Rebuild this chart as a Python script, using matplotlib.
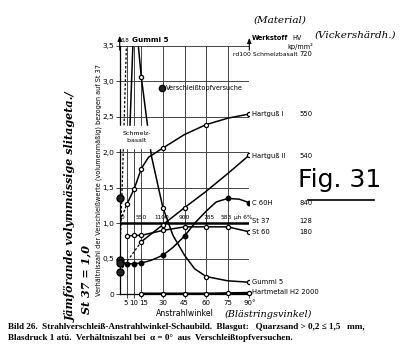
import matplotlib.pyplot as plt
from matplotlib.transforms import ScaledTranslation

W, H = 400, 351

# axis values
grid_x = [0, 5, 10, 15, 30, 45, 60, 75, 90]
x_ticks = [5, 10, 15, 30, 45, 60, 75, 90]
x_tick_labels = ["5", "10", "15", "30", "45", "60", "75", "90°"]
y_ticks = [0, 0.5, 1.0, 1.5, 2.0, 2.5, 3.0, 3.5]
y_tick_labels = ["0", "0,5", "1,0", "1,5", "2,0", "2,5", "3,0", "3,5"]

# Hartguss I (HV 550)
hg1_x = [5, 10, 15, 20, 30, 45, 60, 75, 90]
hg1_y = [1.27, 1.48, 1.77, 1.93, 2.06, 2.25, 2.39, 2.48, 2.54]
hg1_marks = [5, 10, 15, 30, 60, 90]
hg1_dash_x = [0.6, 5]
hg1_dash_y = [1.04, 1.27]

# Hartguss II (HV 540)
hg2_dash_x = [0, 15]
hg2_dash_y = [0.32, 0.74]
hg2_x = [15, 30, 45, 60, 75, 90]
hg2_y = [0.74, 0.98, 1.22, 1.45, 1.70, 1.96]
hg2_marks = [15, 30, 45, 90]

# C 60H (HV 840)
c60_x = [0, 5, 10, 15, 22, 30, 37, 45, 52, 60, 67, 75, 83, 90]
c60_y = [0.46, 0.43, 0.43, 0.44, 0.48, 0.55, 0.66, 0.82, 1.0, 1.17, 1.30, 1.35, 1.34, 1.29]
c60_marks = [5, 10, 15, 30, 45, 75, 90]

# St 60 (HV 180)
st60_x = [5, 10, 15, 30, 45, 60, 75, 90]
st60_y = [0.82, 0.83, 0.83, 0.90, 0.95, 0.95, 0.95, 0.88]

# St 37 (HV 128) reference
st37_x = [0, 90]
st37_y = [1.0, 1.0]

# Gummi 5
gum_x = [7, 9.5, 12, 15, 22, 30, 37, 45, 52, 60, 75, 90]
gum_y = [2.3, 3.7, 3.7, 3.06, 1.95, 1.22, 0.83, 0.55, 0.36, 0.25, 0.19, 0.17]
gum_marks = [15, 30, 60, 90]

# Schmelzbasalt (HV 720)
sb_x = [0, 2, 4.8]
sb_y = [0.47, 1.7, 3.6]

# Hartmetall H2 2000
hm_x = [15, 30, 45, 60, 75, 90]
hm_y = [0.01, 0.01, 0.01, 0.01, 0.015, 0.02]

# values at 0 deg from Verschleisstopf tests
topf_y = [1.36, 0.48, 0.44, 0.32]

# numbers written above the St 37 line
above_x = [2, 15, 29, 45, 62, 74, 86]
above_txt = ["0", "550", "1100", "900", "785", "583", "µh 6%"]

# materials listed on the right
mat_names = ["rd100 Schmelzbasalt", "Hartguß I", "Hartguß II", "C 60H", "St 37", "St 60",
             "Gummi 5", "Hartmetall H2 2000"]
mat_hv = ["720", "550", "540", "840", "128", "180", "", ""]
mat_ypx = [54, 114, 156, 203, 221, 232, 282, 292]


def fx(x):
    return x / W


def fy(y):
    return 1 - y / H


def pick(xs, ys, keep):
    return [x for x in xs if x in keep], [y for x, y in zip(xs, ys) if x in keep]


narrow = dict(family="DejaVu Sans")
hand = dict(family="DejaVu Serif", style="italic")

fig = plt.figure(figsize=(4.0, 3.51), dpi=100)
fig.patch.set_facecolor("white")
ax = fig.add_axes([fx(119.7), 1 - 294.3 / H, 129.6 / W, 248.5 / H])
ax.set_xlim(0, 90)
ax.set_ylim(0, 3.5)

for g in grid_x:
    ax.axvline(g, color="#444444", lw=0.7, zorder=1)
for v in y_ticks[1:]:
    ax.axhline(v, color="#444444", lw=0.7, zorder=1)

for s in ["top", "right"]:
    ax.spines[s].set_visible(False)
ax.spines["left"].set_linewidth(0.9)
ax.spines["bottom"].set_linewidth(0.9)

ax.set_xticks(x_ticks)
ax.set_xticklabels(x_tick_labels, fontsize=5.0, **narrow)
ax.set_yticks(y_ticks)
ax.set_yticklabels(y_tick_labels, fontsize=5.4, **narrow)
ax.tick_params(length=3, width=0.7, pad=1.0, color="#444444")

# nudge the crowded 5 / 15 labels apart from 10
xlabels = ax.get_xticklabels()
xlabels[0].set_transform(xlabels[0].get_transform() + ScaledTranslation(-1.5 / 100, 0, fig.dpi_scale_trans))
xlabels[2].set_transform(xlabels[2].get_transform() + ScaledTranslation(2.5 / 100, 0, fig.dpi_scale_trans))

open_m = dict(marker="o", ms=3.0, mfc="white", mec="black", mew=0.9, ls="none", zorder=4)
full_m = dict(marker="o", ms=3.2, mfc="black", mec="black", ls="none", zorder=4)

# Hartguss I
ax.plot(hg1_x, hg1_y, color="black", lw=1.1, zorder=3)
ax.plot(hg1_dash_x, hg1_dash_y, color="black", lw=0.9, ls=(0, (2, 1.5)), zorder=3)
ax.plot(*pick(hg1_x, hg1_y, hg1_marks), **open_m)

# Hartguss II
ax.plot(hg2_dash_x, hg2_dash_y, color="black", lw=0.9, ls=(0, (2, 1.5)), zorder=3)
ax.plot(hg2_x, hg2_y, color="black", lw=1.1, zorder=3)
ax.plot(*pick(hg2_x, hg2_y, hg2_marks), **open_m)

# C 60H
ax.plot(c60_x, c60_y, color="black", lw=1.1, zorder=3)
ax.plot(*pick(c60_x, c60_y, c60_marks), **full_m)

# St 60
ax.plot(st60_x, st60_y, color="black", lw=1.1, zorder=3)
ax.plot(st60_x, st60_y, **open_m)

# St 37
ax.plot(st37_x, st37_y, color="black", lw=1.8, zorder=3)

# Gummi 5
ax.plot(gum_x, gum_y, color="black", lw=1.1, zorder=3)
ax.plot(*pick(gum_x, gum_y, gum_marks), **open_m)

# Schmelzbasalt
ax.plot(sb_x, sb_y, color="black", lw=0.9, ls=(0, (2, 1.5)), zorder=3)

# Hartmetall
ax.plot(hm_x, hm_y, color="black", lw=1.6, zorder=3, clip_on=False)
ax.plot(hm_x, hm_y, clip_on=False, **open_m)

# Verschleisstopf values at 0 deg
ax.plot([0] * len(topf_y), topf_y, marker="o", ms=5.0, mfc="#222222", mec="black",
        mew=1.0, ls="none", zorder=5, clip_on=False)

for x, t in zip(above_x, above_txt):
    ax.text(x, 1.04, t, ha="center", va="bottom", fontsize=4.2, zorder=6, **narrow)

# off-scale arrows on the left axis and at 90 deg
ax.annotate("", xy=(0, 3.68), xytext=(0, 3.4), annotation_clip=False,
            arrowprops=dict(arrowstyle="-|>,head_length=0.3,head_width=0.12", color="black", lw=0.8))
ax.annotate("", xy=(90, 3.65), xytext=(90, 3.4), annotation_clip=False,
            arrowprops=dict(arrowstyle="-|>,head_length=0.3,head_width=0.12", color="black", lw=0.8))

fig.text(fx(121), fy(40), "6,8", fontsize=4.1, ha="left", va="center", **narrow)
fig.text(fx(131.5), fy(40), "Gummi 5", fontsize=5.2, ha="left", va="center",
         fontweight="bold", **narrow)
fig.text(fx(123), fy(137), "Schmelz-\n  basalt", fontsize=4.5, ha="left",
         va="center", linespacing=1.4, backgroundcolor="white", **narrow)

# legend marker
ax.plot([29.5], [2.91], marker="o", ms=4.5, mfc="#222222", mec="black", ls="none", zorder=5)
fig.text(fx(166), fy(88), "Verschleißtopfversuche", fontsize=4.7, ha="left",
         va="center", **narrow)

# right side labels
fig.text(fx(252), fy(38), "Werkstoff", fontsize=4.7, ha="left", va="center",
         fontweight="bold", **narrow)
fig.text(fx(292), fy(38), "HV", fontsize=4.7, ha="left", va="center", **narrow)
fig.text(fx(287), fy(46), "kp/mm²", fontsize=4.7, ha="left", va="center", **narrow)
for name, hv, ypx in zip(mat_names, mat_hv, mat_ypx):
    first = name.startswith("rd")
    fig.text(fx(233 if first else 252), fy(ypx), name, fontsize=4.4 if first else 4.9,
             ha="left", va="center", **narrow)
    if hv:
        fig.text(fx(299), fy(ypx), hv, fontsize=4.9, ha="left", va="center", **narrow)

# axis labels
fig.text(fx(185), fy(313), "Anstrahlwinkel", fontsize=5.6, ha="center", va="center", **narrow)
fig.text(fx(99), fy(180),
         "Verhältniszahl der Verschleißwerte (volumenmäßig) bezogen auf St 37",
         fontsize=4.7, rotation=90, ha="center", va="center", **narrow)

# handwritten notes
fig.text(fx(280), fy(20), "(Material)", fontsize=7.5, ha="center", va="center", **hand)
fig.text(fx(355), fy(35), "(Vickershärdh.)", fontsize=7.5, ha="center", va="center", **hand)
fig.text(fx(340), fy(180), "Fig. 31", fontsize=18, family="DejaVu Sans", ha="center",
         va="center")
fig.add_artist(plt.Line2D([fx(308), fx(374)], [fy(200), fy(200)], color="black", lw=1.2))
fig.text(fx(268), fy(314), "(Blästringsvinkel)", fontsize=7, ha="center", va="center", **hand)
fig.text(fx(71), fy(207), "Jämförande volymmässige slitageta./", fontsize=8,
         rotation=90, ha="center", va="center", fontweight="bold", **hand)
fig.text(fx(86), fy(280), "St 37 = 1,0", fontsize=8,
         rotation=90, ha="center", va="center", fontweight="bold", **hand)

# caption
serif = ["Liberation Serif", "DejaVu Serif"]
fig.text(fx(8), fy(327),
         "Bild 26.  Strahlverschleiß-Anstrahlwinkel-Schaubild.  Blasgut:   Quarzsand > 0,2 ≤ 1,5   mm,",
         fontsize=6.6, family=serif, ha="left", va="center", fontweight="bold")
fig.text(fx(8), fy(338),
         "Blasdruck 1 atü.  Verhältniszahl bei  α = 0°  aus  Verschleißtopfversuchen.",
         fontsize=6.6, family=serif, ha="left", va="center", fontweight="bold")

fig.savefig("out.png", dpi=100, facecolor="white")
